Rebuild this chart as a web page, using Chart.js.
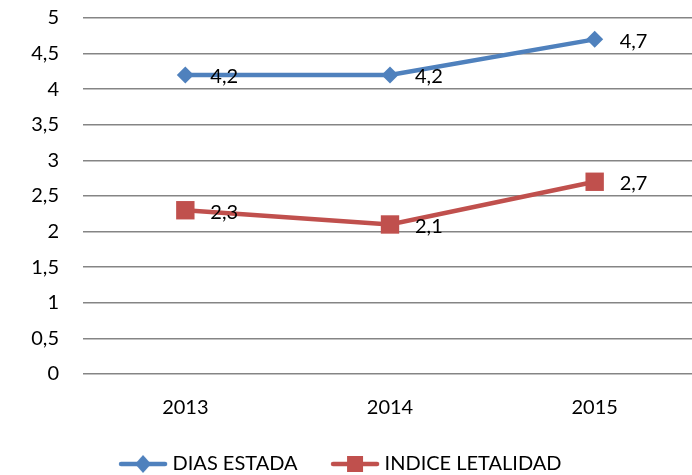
<!DOCTYPE html>
<html>
<head>
<meta charset="utf-8">
<script src="https://cdn.jsdelivr.net/npm/chart.js@4"></script>
<style>
  html, body { margin: 0; padding: 0; background: #fff; overflow: hidden; }
  #wrap { width: 697px; height: 475px; }
</style>
</head>
<body>
<div id="wrap"><canvas id="chart" width="697" height="475"></canvas></div>
<script>
var years = ["2013", "2014", "2015"];
var diasEstada = [4.2, 4.2, 4.7];
var indiceLetalidad = [2.3, 2.1, 2.7];
var seriesNames = ["DIAS ESTADA", "INDICE LETALIDAD"];

var BLUE = "#4F81BD";
var RED = "#C0504D";
var FONT = "Lato";
var FONT_SIZE = 20;

function fmt(v) {
    return String(v).replace(".", ",");
}

// line+marker pictures for the legend; left part left blank so the
// text sits close to the line while items stay well apart
function legendIcon(color, shape) {
    var c = document.createElement("canvas");
    c.width = 78; c.height = 20;
    var g = c.getContext("2d");
    g.strokeStyle = color;
    g.lineWidth = 4.5;
    g.lineCap = "round";
    g.beginPath();
    g.moveTo(31, 10);
    g.lineTo(75, 10);
    g.stroke();
    g.fillStyle = color;
    if (shape == "diamond") {
        g.beginPath();
        g.moveTo(53, 1); g.lineTo(61, 10); g.lineTo(53, 19); g.lineTo(45, 10);
        g.closePath();
        g.fill();
    } else {
        g.fillRect(45, 2, 16, 16);
    }
    return c;
}
var icons = [legendIcon(BLUE, "diamond"), legendIcon(RED, "square")];

var valueLabels = {
    id: "valueLabels",
    afterDatasetsDraw: function(chart) {
        var ctx = chart.ctx;
        ctx.save();
        ctx.font = FONT_SIZE + "px " + FONT;
        ctx.fillStyle = "#000";
        ctx.textAlign = "left";
        ctx.textBaseline = "middle";
        chart.data.datasets.forEach(function(ds, i) {
            chart.getDatasetMeta(i).data.forEach(function(pt, j) {
                ctx.fillText(fmt(ds.data[j]), pt.x + 25, pt.y + 2);
            });
        });
        ctx.restore();
    }
};

// the original legend sits a bit left of centre and lower down
var shiftLegend = {
    id: "shiftLegend",
    afterLayout: function(chart) {
        chart.legend.left -= 20;
        chart.legend.right -= 20;
        chart.legend.top += 9;
        chart.legend.bottom += 9;
    }
};

new Chart(document.getElementById("chart"), {
    type: "line",
    data: {
        labels: years,
        datasets: [{
            label: seriesNames[0],
            data: diasEstada,
            borderColor: BLUE,
            backgroundColor: BLUE,
            borderWidth: 4.5,
            pointStyle: "rectRot",
            pointRadius: 8.5,
            pointHoverRadius: 8.5,
            pointBorderWidth: 0,
            tension: 0
        }, {
            label: seriesNames[1],
            data: indiceLetalidad,
            borderColor: RED,
            backgroundColor: RED,
            borderWidth: 4.5,
            pointStyle: "rect",
            pointRadius: 13,
            pointHoverRadius: 13,
            pointBorderWidth: 0,
            tension: 0
        }]
    },
    options: {
        responsive: false,
        animation: false,
        events: [],
        layout: { autoPadding: false, padding: { top: 18, right: 0, bottom: 0, left: 0 } },
        scales: {
            x: {
                offset: true,
                grid: { display: false, drawTicks: false },
                border: { display: false },
                ticks: { color: "#000", font: { family: FONT, size: FONT_SIZE }, padding: 22 },
                afterFit: function(scale) { scale.height = 61; }
            },
            y: {
                min: 0,
                max: 5,
                ticks: {
                    stepSize: 0.5,
                    color: "#000",
                    font: { family: FONT, size: FONT_SIZE },
                    padding: 2,
                    callback: function(v) { return fmt(v); }
                },
                grid: {
                    color: "#858585",
                    lineWidth: 1.5,
                    drawTicks: true,
                    tickLength: 22,
                    tickColor: "rgba(0,0,0,0)"
                },
                border: { display: false },
                afterFit: function(scale) { scale.width = 83; }
            }
        },
        plugins: {
            legend: {
                position: "bottom",
                labels: {
                    usePointStyle: true,
                    pointStyleWidth: 67,
                    color: "#000",
                    font: { family: FONT, size: FONT_SIZE },
                    padding: 10,
                    generateLabels: function(chart) {
                        var items = Chart.defaults.plugins.legend.labels.generateLabels(chart);
                        items.forEach(function(it, i) { it.pointStyle = icons[i]; });
                        return items;
                    }
                }
            },
            tooltip: { enabled: false }
        }
    },
    plugins: [valueLabels, shiftLegend]
});
</script>
</body>
</html>
